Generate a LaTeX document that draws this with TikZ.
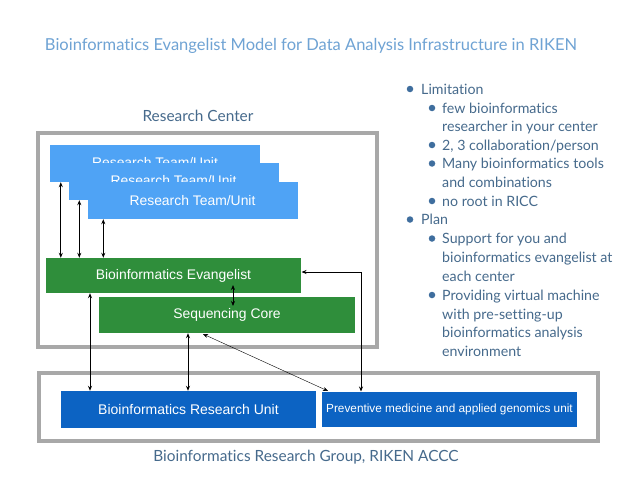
\documentclass[tikz,border=0pt]{standalone}
\usepackage{fontspec}
\setmainfont{Lato}[Ligatures={NoCommon}]
\newfontfamily\boxfont{Liberation Sans}
\usetikzlibrary{arrows.meta}
\definecolor{titleblue}{HTML}{6FA3D4}
\definecolor{labelblue}{HTML}{466A8C}
\definecolor{bulletblue}{HTML}{3F6E9E}
\definecolor{teamblue}{HTML}{4FA3F5}
\definecolor{unitblue}{HTML}{0C63C3}
\definecolor{evgreen}{HTML}{2F8E3B}
\definecolor{framegray}{HTML}{A8A8A8}
\tikzset{
  frame/.style={draw=framegray, line width=4pt, fill=white},
  teambox/.style={fill=teamblue, minimum width=210pt, minimum height=37pt, inner sep=0pt, text=white, font=\boxfont\fontsize{13.9}{15}\selectfont},
  greenbox/.style={fill=evgreen, minimum width=255pt, minimum height=35pt, inner sep=0pt, text=white, font=\boxfont\fontsize{13.9}{15}\selectfont},
  unitbox/.style={fill=unitblue, minimum width=255pt, minimum height=36pt, inner sep=0pt, text=white, font=\boxfont\fontsize{13.9}{15}\selectfont},
  dbl/.style={{Stealth[length=5pt,width=4pt]}-{Stealth[length=5pt,width=4pt]}, line width=0.8pt, black},
  thindbl/.style={{Stealth[length=5pt,width=4pt]}-{Stealth[length=5pt,width=4pt]}, line width=0.4pt, black},
  lbl/.style={text=labelblue, font=\fontsize{15.4}{17}\selectfont, inner sep=0pt},
  item/.style={text=labelblue, font=\fontsize{14.2}{16}\selectfont, anchor=base west, inner sep=0pt},
  bul/.style={fill=bulletblue, draw=none, circle, minimum size=6.5pt, inner sep=0pt}
}
\begin{document}
\begin{tikzpicture}[x=1pt,y=-1pt]
\useasboundingbox (0,0) rectangle (638,479);
\fill[white] (0,0) rectangle (638,479);
% title
\node[text=titleblue, font=\fontsize{16.5}{18}\selectfont, inner sep=0pt] (title) at (311,46) {Bioinformatics Evangelist Model for Data Analysis Infrastructure in RIKEN};
% frames
\draw[frame] (38,133) rectangle (377,347);
\draw[frame] (39,373) rectangle (598,441);
\node[lbl] (rc) at (198,116) {Research Center};
\node[lbl] (brg) at (306,457) {Bioinformatics Research Group, RIKEN ACCC};
% team boxes
\node[teambox] (t1) at (155,163.5) {};
\node[text=white, font=\boxfont\fontsize{13.9}{15}\selectfont] (t1t) at (155,163) {Research Team/Unit};
\node[teambox] (t2) at (173.5,181.5) {};
\node[text=white, font=\boxfont\fontsize{13.9}{15}\selectfont] (t2t) at (173.5,181) {Research Team/Unit};
\node[teambox] (t3) at (192.5,200.5) {Research Team/Unit};
% green boxes
\node[greenbox] (ev) at (173.5,275.5) {Bioinformatics Evangelist};
\node[greenbox, minimum width=256pt, minimum height=36pt] (sc) at (227,315) {Sequencing Core};
% units
\node[unitbox, minimum height=37pt] (bru) at (188.5,409.5) {\fontsize{14}{15}\selectfont Bioinformatics Research Unit};
\node[unitbox, minimum height=35pt] (pm) at (449.5,409.5) {\fontsize{11.8}{13}\selectfont Preventive medicine and applied genomics unit};
% arrows team -> evangelist
\draw[dbl] ([xshift=11pt]t1.south west) -- ([xshift=11pt]t1.south west |- ev.north);
\draw[dbl] ([xshift=11pt]t2.south west) -- ([xshift=11pt]t2.south west |- ev.north);
\draw[dbl] ([xshift=16pt]t3.south west) -- ([xshift=16pt]t3.south west |- ev.north);
% evangelist <-> sequencing core
\coordinate (es1) at (233,285);
\coordinate (es2) at (233,306);
\draw[dbl] (es1) -- (es2);
% evangelist <-> BRU
\coordinate (xa) at (90,0);
\draw[dbl] (ev.south -| xa) -- (bru.north -| xa);
% sequencing core <-> BRU
\coordinate (xb) at (188,0);
\draw[dbl] (sc.south -| xb) -- (bru.north -| xb);
% diagonal
\coordinate (d1) at (203,334);
\coordinate (d2) at (328,391);
\draw[thindbl] (d1) -- (d2);
% evangelist <-> preventive
\coordinate (r1) at (301.5,272);
\coordinate (rc1) at (361,272);
\coordinate (r2) at (361,391.5);
\draw[dbl] (r1) -- (rc1) -- (r2);
% bullet list
\node[bul] (b1) at (410,89) {};
\node[item] (i1) at (421,94) {Limitation};
\node[bul] (b2) at (432,108) {};
\node[item] (i2) at (442,113) {few bioinformatics};
\node[item] (i3) at (442,131.5) {researcher in your center};
\node[bul] (b3) at (432,145) {};
\node[item] (i4) at (442,150) {2, 3 collaboration/person};
\node[bul] (b4) at (432,163.5) {};
\node[item] (i5) at (442,168.5) {Many bioinformatics tools};
\node[item] (i6) at (442,187) {and combinations};
\node[bul] (b5) at (432,201) {};
\node[item] (i7) at (442,206) {no root in RICC};
\node[bul] (b6) at (410,219.5) {};
\node[item] (i8) at (421,224.5) {Plan};
\node[bul] (b7) at (432,238.5) {};
\node[item] (i9) at (442,243.5) {Support for you and};
\node[item] (i10) at (442,262.5) {bioinformatics evangelist at};
\node[item] (i11) at (442,281) {each center};
\node[bul] (b8) at (432,295) {};
\node[item] (i12) at (442,300) {Providing virtual machine};
\node[item] (i13) at (442,319) {with pre-setting-up};
\node[item] (i14) at (442,337.5) {bioinformatics analysis};
\node[item] (i15) at (442,356) {environment};
\end{tikzpicture}
\end{document}
